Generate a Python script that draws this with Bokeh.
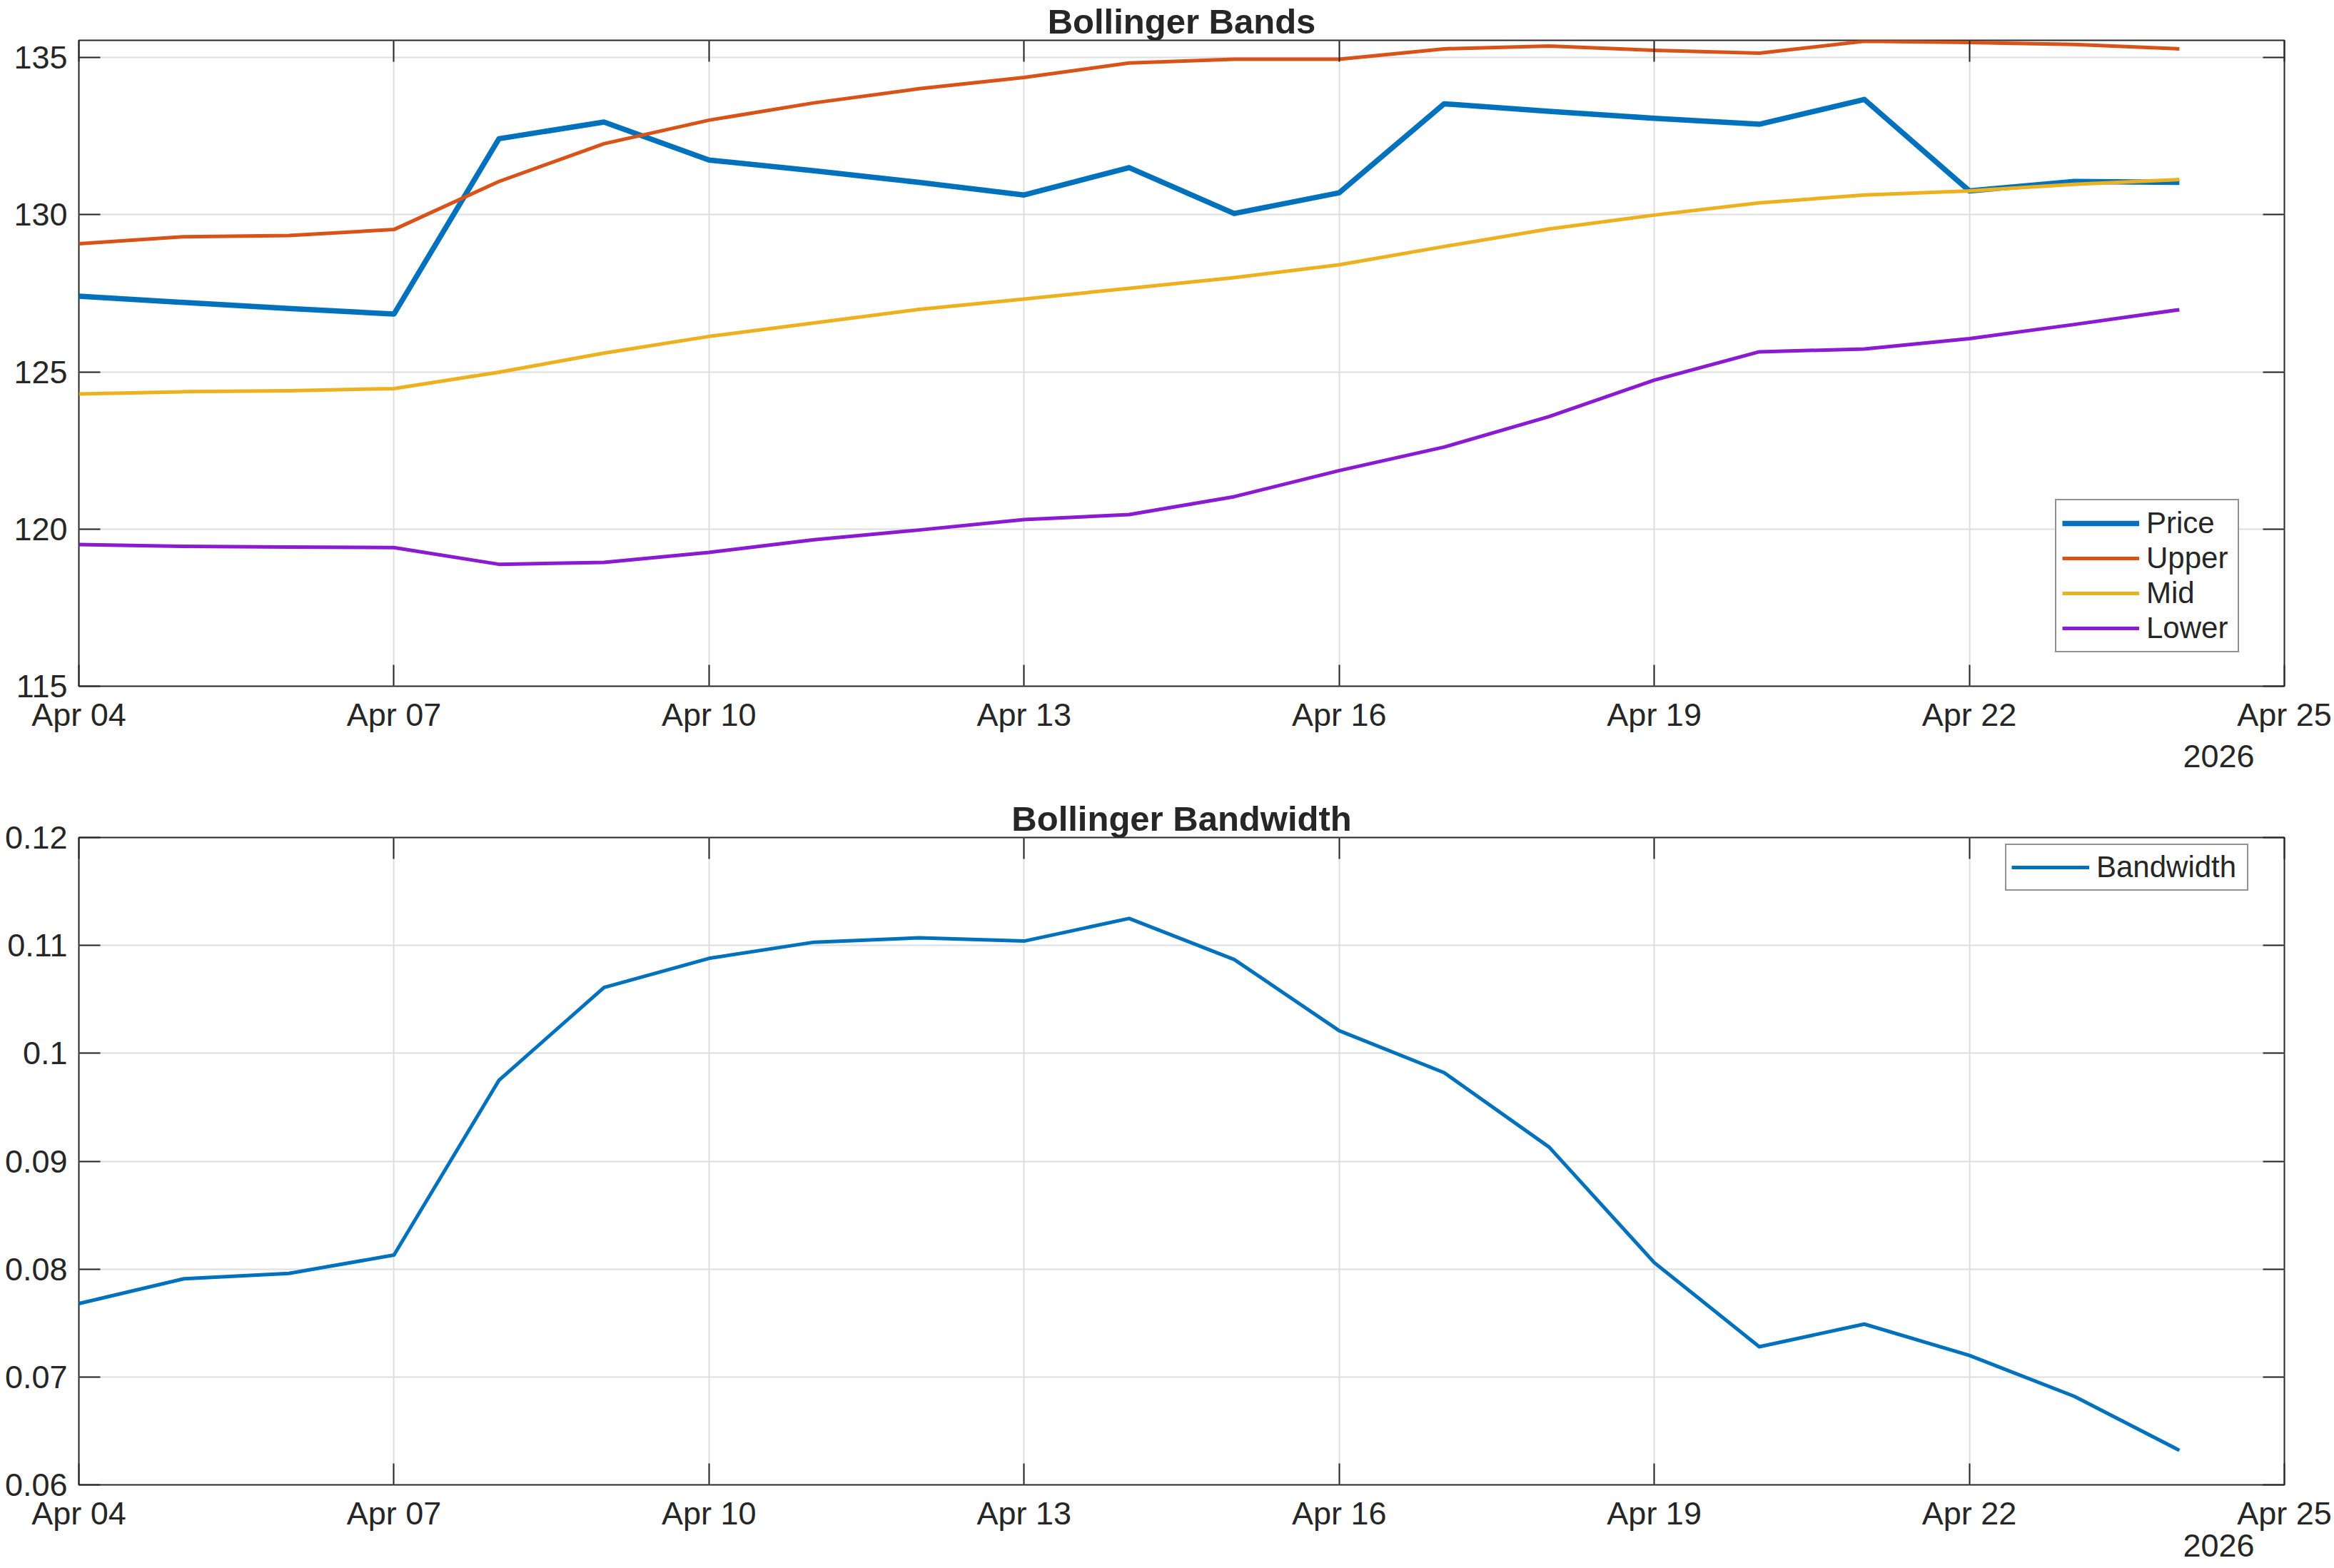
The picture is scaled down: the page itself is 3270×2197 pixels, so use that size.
import pandas as pd
from bokeh.plotting import figure
from bokeh.layouts import column
from bokeh.models import (Range1d, FixedTicker, DatetimeTickFormatter, LinearAxis,
                          DatetimeAxis)
from bokeh.embed import file_html
from bokeh.resources import INLINE

# ---- data ----
dates = ["2026-04-04", "2026-04-05", "2026-04-06", "2026-04-07", "2026-04-08",
         "2026-04-09", "2026-04-10", "2026-04-11", "2026-04-12", "2026-04-13",
         "2026-04-14", "2026-04-15", "2026-04-16", "2026-04-17", "2026-04-18",
         "2026-04-19", "2026-04-20", "2026-04-21", "2026-04-22", "2026-04-23",
         "2026-04-24"]
price = [127.41, 127.21, 127.02, 126.84, 132.42, 132.95, 131.74, 131.40, 131.03, 130.63,
         131.50, 130.04, 130.70, 133.53, 133.29, 133.07, 132.88, 133.67, 130.76, 131.06,
         131.03]
upper = [129.08, 129.30, 129.34, 129.53, 131.06, 132.26, 133.01, 133.56, 134.01, 134.37,
         134.83, 134.95, 134.95, 135.28, 135.37, 135.23, 135.14, 135.52, 135.48, 135.42,
         135.28]
mid = [124.30, 124.37, 124.40, 124.47, 124.99, 125.60, 126.13, 126.56, 126.99, 127.32,
       127.66, 128.00, 128.41, 128.99, 129.55, 129.99, 130.38, 130.63, 130.76, 130.97,
       131.12]
lower = [119.51, 119.45, 119.43, 119.41, 118.88, 118.94, 119.26, 119.66, 119.97, 120.30,
         120.46, 121.03, 121.86, 122.61, 123.58, 124.74, 125.64, 125.73, 126.06, 126.51,
         126.98]
bandwidth = [0.0768, 0.0791, 0.0796, 0.0813, 0.0975, 0.1061, 0.1088, 0.1103, 0.1107,
             0.1104, 0.1125, 0.1087, 0.1021, 0.0982, 0.0913, 0.0806, 0.0728, 0.0749,
             0.0720, 0.0682, 0.0632]

x_tick_dates = ["2026-04-04", "2026-04-07", "2026-04-10", "2026-04-13", "2026-04-16",
                "2026-04-19", "2026-04-22", "2026-04-25"]
bands_ticks = [115, 120, 125, 130, 135]
bw_ticks = [0.06, 0.07, 0.08, 0.09, 0.10, 0.11, 0.12]
year_at = "2026-04-24 09:00"   # where the year caption sits under the date axis

x = pd.to_datetime(dates)
x_start = pd.Timestamp("2026-04-04")
x_end = pd.Timestamp("2026-04-25")
to_ms = lambda t: t.value / 1e6
x_ticks_ms = [to_ms(pd.Timestamp(d)) for d in x_tick_dates]

FONT = "Liberation Sans"
INK = "#262626"
GRID = "#DEDEDE"
W = 3270
ALL_SCALES = ("microseconds", "milliseconds", "seconds", "minsec", "minutes",
              "hourmin", "hours", "days", "months", "years")


def fmt(pattern):
    return DatetimeTickFormatter(context=None, **{k: pattern for k in ALL_SCALES})


def style(p, yticks, top_gap, year_gap):
    xt = FixedTicker(ticks=x_ticks_ms)
    yt = FixedTicker(ticks=yticks)
    xax = p.below[0]
    yax = p.left[0]
    xax.ticker = xt
    xax.formatter = fmt("%b %d")
    yax.ticker = yt

    # tick marks only (no labels) on the right and top edges of the box
    right = LinearAxis(ticker=yt, major_label_text_font_size="1px",
                       major_label_text_color=None, major_label_standoff=0)
    top = DatetimeAxis(ticker=xt, formatter=fmt("%b %d"),
                       major_label_text_font_size="1px",
                       major_label_text_color=None, major_label_standoff=top_gap)
    p.add_layout(right, "right")
    p.add_layout(top, "above")

    # year caption as a second, tick-less date axis under the first one
    year_ax = DatetimeAxis(ticker=FixedTicker(ticks=[to_ms(pd.Timestamp(year_at))]),
                           formatter=fmt("%Y"))
    p.add_layout(year_ax, "below")

    for ax in (xax, yax, right, top, year_ax):
        ax.axis_line_color = None
        ax.major_tick_in = 30
        ax.major_tick_out = 0
        ax.major_tick_line_color = INK
        ax.major_tick_line_width = 2
        ax.minor_tick_line_color = None
    year_ax.major_tick_line_color = None
    year_ax.major_tick_in = 0
    for ax in (xax, yax, year_ax):
        ax.major_label_text_font = FONT
        ax.major_label_text_font_size = "45px"
        ax.major_label_text_color = INK
    xax.major_label_standoff = 14
    year_ax.major_label_standoff = year_gap
    yax.major_label_standoff = 16

    p.xgrid.ticker = xt
    p.ygrid.ticker = yt
    p.grid.grid_line_color = GRID
    p.grid.grid_line_width = 2
    p.outline_line_color = INK
    p.outline_line_width = 2

    p.title.align = "center"
    p.title.text_font = FONT
    p.title.text_font_size = "49px"
    p.title.text_font_style = "bold"
    p.title.text_color = INK
    p.title.standoff = 0
    p.title.offset = 0


def style_legend(lg, loc, gw, pad):
    lg.location = loc
    lg.label_text_font = FONT
    lg.label_text_font_size = "42px"
    lg.label_text_color = INK
    lg.glyph_width = gw
    lg.glyph_height = 46
    lg.label_height = 46
    lg.label_standoff = 10
    lg.spacing = 1
    lg.padding = pad
    lg.margin = 0
    lg.border_line_color = INK
    lg.border_line_width = 2
    lg.background_fill_color = "white"
    lg.background_fill_alpha = 1


# ---- Bollinger Bands ----
p1 = figure(width=W, height=1090, output_backend="svg", toolbar_location=None,
            title="Bollinger Bands",
            x_axis_type="datetime", x_range=Range1d(x_start, x_end),
            y_range=Range1d(115, 135.55),
            min_border_left=110, min_border_right=70, min_border_top=54,
            min_border_bottom=129, background_fill_color="white",
            border_fill_color="white")
style(p1, bands_ticks, 0, 14)
p1.line(x, price, line_color="#0072BD", line_width=7.5, line_join="round",
        legend_label="Price")
p1.line(x, upper, line_color="#D95319", line_width=5, line_join="round",
        legend_label="Upper")
p1.line(x, mid, line_color="#EDB120", line_width=5, line_join="round",
        legend_label="Mid")
p1.line(x, lower, line_color="#8A1BD2", line_width=5, line_join="round",
        legend_label="Lower")
style_legend(p1.legend[0], (2769, 47), 108, 8)
p1.legend[0].label_width = 120

# ---- Bollinger Bandwidth ----
p2 = figure(width=W, height=1107, output_backend="svg", toolbar_location=None,
            title="Bollinger Bandwidth",
            x_axis_type="datetime", x_range=Range1d(x_start, x_end),
            y_range=Range1d(0.06, 0.12),
            min_border_left=110, min_border_right=70, min_border_top=83,
            min_border_bottom=117, background_fill_color="white",
            border_fill_color="white")
style(p2, bw_ticks, 6, 1)
p2.left[0].major_label_overrides = {0.1: "0.1"}
p2.line(x, bandwidth, line_color="#0072BD", line_width=5, line_join="round",
        legend_label="Bandwidth")
style_legend(p2.legend[0], (2699, 832), 109, 7)
p2.legend[0].label_width = 204

layout = column(p1, p2, spacing=0)
open("out.html", "w").write(file_html(layout, INLINE))
